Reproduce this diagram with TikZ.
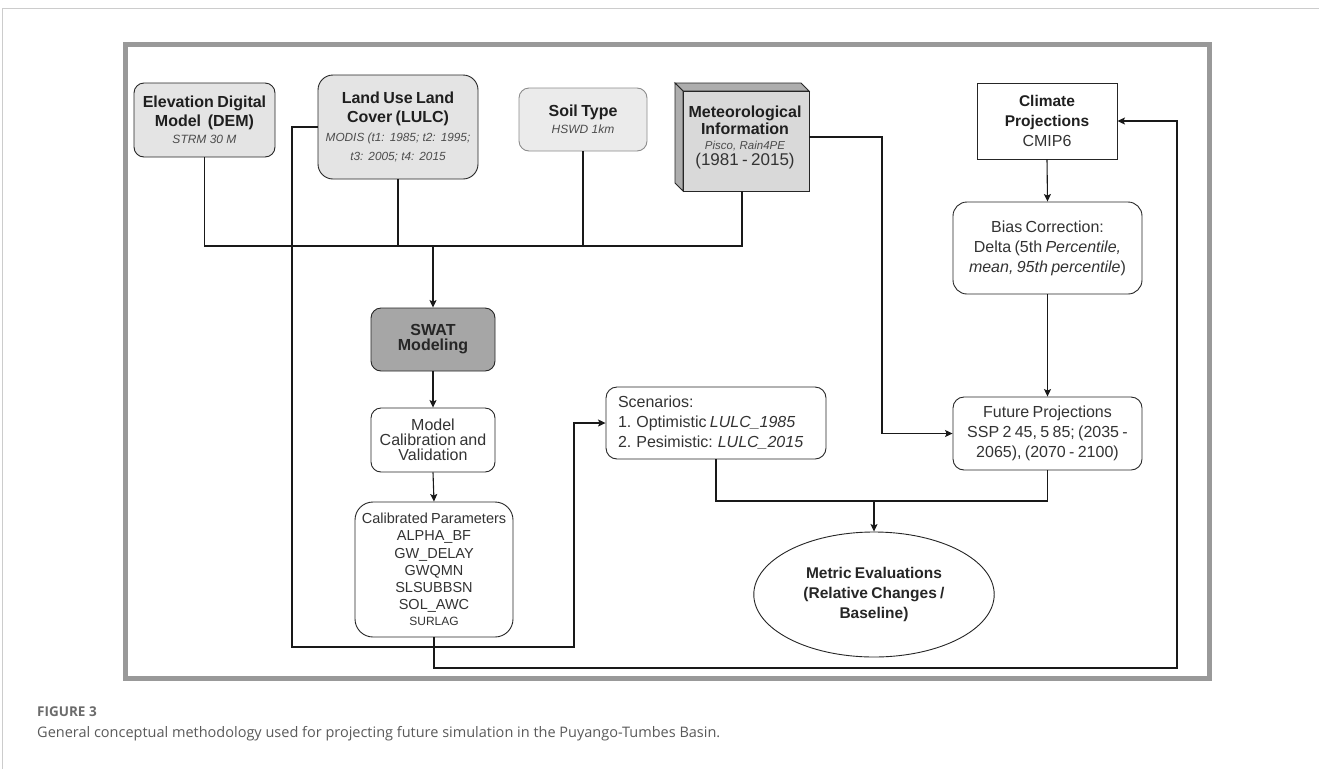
\documentclass[tikz,border=0pt]{standalone}
\usepackage{fontspec}
\setmainfont{Liberation Sans}
\newfontfamily\capfont{Open Sans}
\usetikzlibrary{arrows.meta,shapes.geometric,calc}
\definecolor{boxgray}{HTML}{E4E4E4}
\definecolor{soilgray}{HTML}{EBEBEB}
\definecolor{swatgray}{HTML}{A6A6A6}
\definecolor{frontgray}{HTML}{D9D9D9}
\definecolor{sidegray}{HTML}{ADADAD}
\definecolor{framegray}{HTML}{999999}
\definecolor{txt}{HTML}{333333}
\definecolor{captxt}{HTML}{5A5A5A}
\newcommand{\BoldT}{\fontsize{16}{19}\selectfont\bfseries\upshape\color{black!88}}
\newcommand{\SmallI}{\fontsize{12}{17}\selectfont\mdseries\itshape\color{black!70}}
\newcommand{\RegT}{\fontsize{16}{20}\selectfont\mdseries\upshape\color{txt}}
\tikzset{
  bx/.style={draw=black!85, line width=0.9pt, inner sep=0pt, align=center, text=txt},
  ln/.style={draw=black!90, line width=1.1pt},
  ar/.style={ln, -{Stealth[length=7.5pt,width=7pt,inset=1.5pt]}},
}
\begin{document}
\begin{tikzpicture}[x=1pt,y=-1pt]
\useasboundingbox (0,0) rectangle (1319,769);
\fill[white] (0,0) rectangle (1319,769);
% outer thin frame
\draw[black!20, line width=0.8pt] (2,769) -- (2,8) -- (1319,8);
% gray thick frame
\draw[framegray, line width=5pt] (125.5,44.5) rectangle (1209.5,678.5);

% DEM
\node[bx, fill=boxgray, rounded corners=10pt, minimum width=141pt, minimum height=74pt, text width=138pt] (dem) at (204.5,120)
  {\BoldT Elevation Digital\\Model\ \ (DEM)\par\SmallI STRM 30 M\par};
% LULC
\node[bx, fill=boxgray, rounded corners=15pt, minimum width=160pt, minimum height=104pt, text width=158pt] (lulc) at (398,127)
  {\BoldT Land Use Land\\Cover (LULC)\par\fontsize{11.8}{19}\selectfont\mdseries\itshape\color{black!70} MODIS (t1: 1985; t2: 1995;\\t3: 2005; t4: 2015\par};
% Soil
\node[bx, draw=black!45, fill=soilgray, rounded corners=10pt, minimum width=128pt, minimum height=63pt, text width=124pt] (soil) at (583,119.5)
  {\BoldT Soil Type\par\SmallI HSWD 1km\par};
% Meteorological cube
\fill[frontgray] (683,91) rectangle (809,191);
\filldraw[fill=sidegray, draw=black!85, line width=0.9pt] (675,83) -- (801,83) -- (809,91) -- (683,91) -- cycle;
\filldraw[fill=sidegray, draw=black!85, line width=0.9pt] (675,83) -- (683,91) -- (683,191) -- (675,183) -- cycle;
\draw[black!85, line width=0.9pt] (683,91) rectangle (809,191);
\node[bx, draw=none, minimum width=134pt, minimum height=108pt, text width=130pt] (met) at (742,137)
  {\fontsize{16}{17}\selectfont\bfseries\upshape\color{black!88}\hspace*{6pt}Meteorological\\\hspace*{6pt}Information\par
   \fontsize{11.5}{15}\selectfont\mdseries\itshape\color{black!70}\hspace*{6pt}Pisco, Rain4PE\par
   \fontsize{17}{16}\selectfont\mdseries\upshape\color{txt}\hspace*{6pt}(1981 - 2015)\par};
% Climate projections
\node[bx, fill=white, minimum width=140pt, minimum height=76pt, text width=136pt] (clim) at (1047,121)
  {\fontsize{15.5}{20}\selectfont\bfseries\color{black!88} Climate\\Projections\par\RegT CMIP6\par};
% Bias correction
\node[bx, fill=white, rounded corners=14pt, minimum width=189pt, minimum height=92pt, text width=185pt] (bias) at (1047.5,248)
  {\RegT Bias Correction:\\Delta (5th \textit{Percentile,}\\\textit{mean, 95th percentile})\par};
% Future projections
\node[bx, fill=white, rounded corners=11pt, minimum width=189pt, minimum height=73pt, text width=185pt] (fut) at (1047.5,433.5)
  {\RegT Future Projections\\SSP 2 45, 5 85; (2035 -\\2065), (2070 - 2100)\par};
% SWAT
\node[bx, fill=swatgray, rounded corners=10pt, minimum width=124pt, minimum height=63pt, text width=120pt] (swat) at (433,339.5)
  {\fontsize{16}{15}\selectfont\bfseries\color{black!85} SWAT\\Modeling\par};
% Model calibration
\node[bx, fill=white, rounded corners=10pt, minimum width=124pt, minimum height=64pt, text width=122pt] (model) at (433,440)
  {\fontsize{16}{14.8}\selectfont\color{txt} Model\\Calibration and\\Validation\par};
% Calibrated parameters
\node[bx, fill=white, rounded corners=18pt, minimum width=158pt, minimum height=135pt, text width=156pt] (calib) at (434,569.5)
  {\fontsize{14.5}{17.3}\selectfont\color{txt} Calibrated Parameters\\ALPHA\_BF\\GW\_DELAY\\GWQMN\\SLSUBBSN\\SOL\_AWC\par
   \fontsize{12}{16}\selectfont SURLAG\par};
% Scenarios
\node[bx, fill=white, rounded corners=11pt, minimum width=220pt, minimum height=72pt, text width=196pt, align=left] (scen) at (716,423)
  {\RegT Scenarios:\\1. Optimistic \textit{LULC\_1985}\\2. Pesimistic: \textit{LULC\_2015}\par};
% Metric evaluations
\node[bx, ellipse, fill=white, minimum width=202pt, minimum height=125pt, text width=170pt] (metric) at (874,594.5)
  {\fontsize{15.5}{20}\selectfont\bfseries\color{black!85} Metric Evaluations\\(Relative Changes /\\Baseline)\par};

% coordinates
\coordinate (bus) at (433,246);
\coordinate (c1) at (292,647);
\coordinate (c2) at (574,647);
\coordinate (c3) at (882,433.5);
\coordinate (c4) at (874,501);
\coordinate (c5) at (1177,668);

% connectors
\draw[ln] (dem.south) |- (met.south |- bus) -- (met.south);
\draw[ln] (lulc.south) -- (lulc.south |- bus);
\draw[ln] (soil.south) -- (soil.south |- bus);
\draw[ar] (bus) -- (swat.north);
\draw[ar] (swat.south) -- (model.north);
\draw[ar] (model.south) -- (calib.north);
\draw[ar] (lulc.west) -| (c1) -- (c2) |- (scen.west);
\draw[ar] (met.east) -| (c3) -- (fut.west);
\draw[ar] (clim.south) -- (bias.north);
\draw[ar] (bias.south) -- (fut.north);
\draw[ln] (scen.south) |- (fut.south |- c4) -- (fut.south);
\draw[ar] (c4) -- (metric.north);
\draw[ar] (calib.south) |- (c5) |- (clim.east);

% caption
\node[anchor=west, inner sep=0pt, font=\capfont\bfseries\fontsize{13.5}{15}\selectfont, text=black!58] (figlabel) at (37,712) {FIGURE 3};
\node[anchor=west, inner sep=0pt, font=\capfont\fontsize{14.5}{17}\selectfont, text=captxt] (caption) at (37,734)
  {General conceptual methodology used for projecting future simulation in the Puyango-Tumbes Basin.};
\end{tikzpicture}
\end{document}
